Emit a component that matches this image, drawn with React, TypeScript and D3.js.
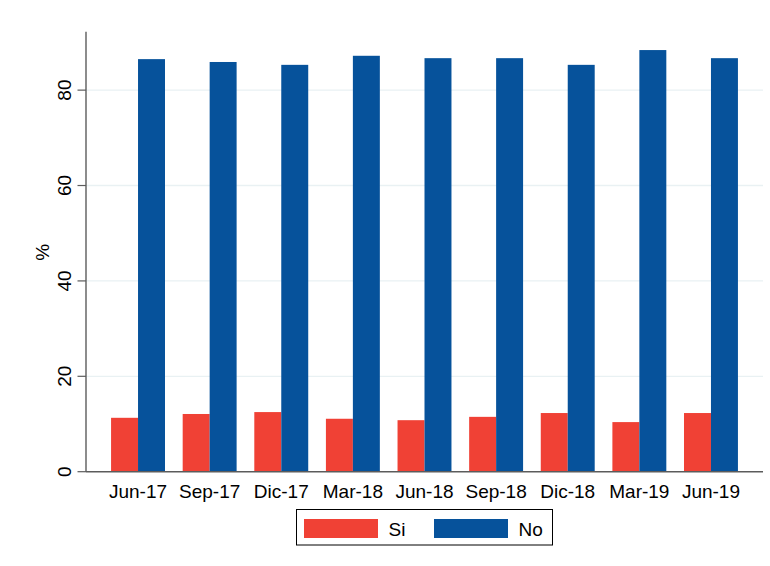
import * as React from "react";
import * as d3 from "d3";

const categories = ["Jun-17", "Sep-17", "Dic-17", "Mar-18", "Jun-18", "Sep-18", "Dic-18", "Mar-19", "Jun-19"];
const siValues = [11.3, 12.1, 12.5, 11.1, 10.8, 11.5, 12.3, 10.4, 12.3];
const noValues = [86.5, 85.9, 85.3, 87.2, 86.7, 86.7, 85.3, 88.4, 86.7];
const seriesNames = ["Si", "No"];
const yTicks = [0, 20, 40, 60, 80];

const colors = ["#f04135", "#06529b"];
const axisColor = "#5c5c5c";
const gridColor = "#e9f1f3";
const font = "'Liberation Sans', Arial, sans-serif";

export default function App() {
  const width = 770;
  const height = 566;
  const left = 86;
  const right = 763;
  const top = 31.7;
  const bottom = 471.7;

  const x = d3.scaleBand<string>().domain(categories).range([left, right]).paddingInner(0.247).paddingOuter(0.35);
  const x1 = d3.scaleBand<string>().domain(seriesNames).range([0, x.bandwidth()]);
  const y = d3.scaleLinear().domain([0, 92.25]).range([bottom, top]);

  const series = [siValues, noValues];

  return (
    <svg width={width} height={height} style={{ position: "absolute", left: 0, top: 0 }} fontFamily={font}>
      <rect width={width} height={height} fill="#fff" />
      {/* grid */}
      {yTicks.filter((t) => t > 0).map((t) => (
        <line key={t} x1={left} x2={right} y1={y(t)} y2={y(t)} stroke={gridColor} strokeWidth={1.3} />
      ))}
      {/* bars */}
      {categories.map((c, i) => (
        <g key={c}>
          {series.map((vals, s) => (
            <rect
              key={s}
              x={x(c)! + x1(seriesNames[s])!}
              y={y(vals[i])}
              width={x1.bandwidth()}
              height={bottom - y(vals[i])}
              fill={colors[s]}
            />
          ))}
        </g>
      ))}
      {/* axes */}
      <line x1={left} x2={left} y1={top} y2={bottom} stroke={axisColor} strokeWidth={1.4} />
      <line x1={left} x2={right} y1={bottom} y2={bottom} stroke={axisColor} strokeWidth={1.4} />
      {yTicks.map((t) => (
        <g key={t}>
          <line x1={left - 8.5} x2={left} y1={y(t)} y2={y(t)} stroke={axisColor} strokeWidth={1.2} />
          <text
            transform={`translate(${71},${y(t)}) rotate(-90)`}
            textAnchor="middle"
            fontSize={19}
            fill="#000"
          >
            {t}
          </text>
        </g>
      ))}
      <text transform={`translate(${49},${y(46)}) rotate(-90)`} textAnchor="middle" fontSize={19} fill="#000">
        %
      </text>
      {categories.map((c) => (
        <text key={c} x={x(c)! + x.bandwidth() / 2} y={497.5} textAnchor="middle" fontSize={19} fill="#000">
          {c}
        </text>
      ))}
      {/* legend */}
      <g>
        <rect x={296.5} y={509.5} width={256} height={35.5} fill="#fff" stroke="#000" strokeWidth={1} />
        {seriesNames.map((name, s) => (
          <g key={name} transform={`translate(${304 + s * 130},519)`}>
            <rect width={74} height={19} fill={colors[s]} />
            <text x={84.5} y={16.5} fontSize={19} fill="#000">
              {name}
            </text>
          </g>
        ))}
      </g>
    </svg>
  );
}
